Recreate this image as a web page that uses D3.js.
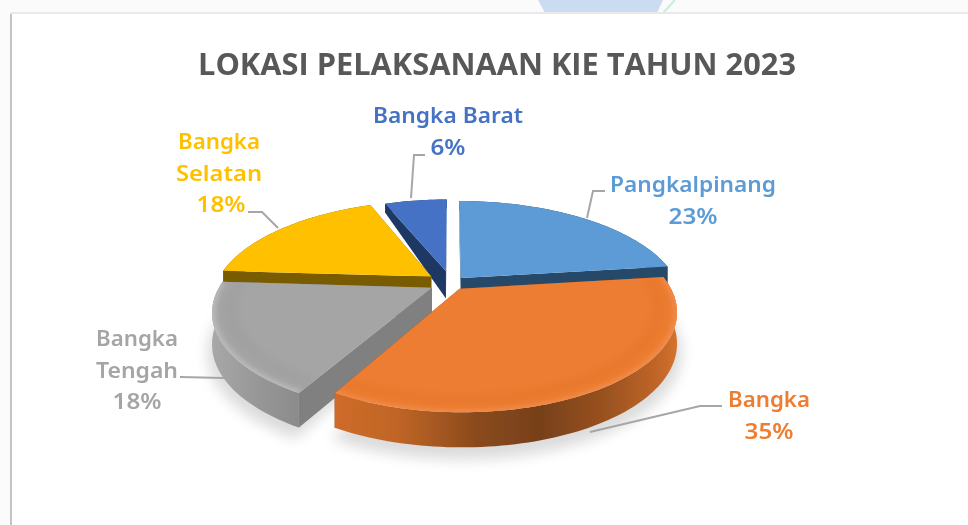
<!DOCTYPE html>
<html><head><meta charset="utf-8">
<script src="https://cdn.jsdelivr.net/npm/d3@7"></script>
<style>html,body{margin:0;padding:0;background:#fff;overflow:hidden}svg{display:block}</style>
</head><body><svg id="c" width="968" height="525"></svg>
<script>
const titleText = "LOKASI PELAKSANAAN KIE TAHUN 2023";
const categories = ["Pangkalpinang","Bangka","Bangka Tengah","Bangka Selatan","Bangka Barat"];
const values = [23,35,18,18,6];
const topColors = ["#5b9bd5","#ed7d31","#a5a5a5","#ffc000","#4472c4"];
const sideColors = ["#264a6b","#8a4a1c","#808080","#7a5c00","#1f3864"];

const svg = d3.select("#c");
const defs = svg.append("defs");
const W = 968, H = 525;

const blur = defs.append("filter").attr("id","soft").attr("x","-5%").attr("y","-5%").attr("width","110%").attr("height","110%");
blur.append("feGaussianBlur").attr("stdDeviation",0.6);
const blur3 = defs.append("filter").attr("id","b3").attr("x","-20%").attr("y","-20%").attr("width","140%").attr("height","140%");
blur3.append("feGaussianBlur").attr("stdDeviation",2.5);
const blurS = defs.append("filter").attr("id","bs").attr("x","-20%").attr("y","-20%").attr("width","140%").attr("height","140%");
blurS.append("feGaussianBlur").attr("stdDeviation",7);

const root = svg.append("g").attr("filter","url(#soft)");
root.append("rect").attr("width",W).attr("height",H).attr("fill","#fbfbfb");
root.append("polygon").attr("points","538,0 663,0 657,13 545,13").attr("fill","#ccdcf0");
root.append("line").attr("x1",675).attr("y1",0).attr("x2",663).attr("y2",13).attr("stroke","#c5f0da").attr("stroke-width",2);
root.append("rect").attr("x",10).attr("y",12).attr("width",W-10).attr("height",H-12).attr("fill","#e9e9e9");
root.append("rect").attr("x",10).attr("y",14).attr("width",2).attr("height",H-14).attr("fill","#c4c4c4");
root.append("rect").attr("x",12).attr("y",14).attr("width",W-12).attr("height",H-14).attr("fill","#ffffff");

root.append("text").attr("x",497).attr("y",75).attr("text-anchor","middle")
  .attr("font-family","'Open Sans',sans-serif").attr("font-weight",700).attr("font-size",31)
  .attr("fill","#595959").attr("textLength",598).attr("lengthAdjust","spacingAndGlyphs").text(titleText);

const cx = 451, cy = 283, R = 215, Ry = 96, k = 0.23;
const xs = d3.scaleLinear().domain([-1,1]).range([cx-R,cx+R]);
const ys = d3.scaleLinear().domain([-1,1]).range([cy-Ry,cy+Ry]);
const depth = v => v < 0 ? 30 + 21*Math.max(v,-1) : 30 + 5*v;
function project(u,v,z){
  const w = 1/(1-k*v);
  return [xs(u*w), ys(v*w) + (z||0)*depth(v)];
}
const pie = d3.pie().sort(null).value(d=>d);
const arcs = pie(values);
const explode = [0.07,0.07,0.10,0.115,0.13];
const radius = [1.01,0.97,0.98,1,0.96];

function geom(i){
  const a = arcs[i], mid=(a.startAngle+a.endAngle)/2, e=explode[i], r=radius[i];
  const ou=Math.sin(mid)*e, ov=-Math.cos(mid)*e;
  const n=Math.max(8,Math.round((a.endAngle-a.startAngle)*40));
  const angles=d3.range(n+1).map(j=>a.startAngle+(a.endAngle-a.startAngle)*j/n);
  const rim=(rr,z)=>angles.map(t=>project(ou+Math.sin(t)*r*rr,ov-Math.cos(t)*r*rr,z));
  const apex=z=>project(ou,ov,z);
  return {rim,apex,a,n};
}
const line = d3.line().curve(d3.curveLinear);
const closed = pts => line(pts)+"Z";

function sideGrad(id,x1,x2,stops){
  const g=defs.append("linearGradient").attr("id",id).attr("gradientUnits","userSpaceOnUse")
    .attr("x1",x1).attr("y1",0).attr("x2",x2).attr("y2",0);
  stops.forEach(s=>g.append("stop").attr("offset",s[0]).attr("stop-color",s[1]));
}
sideGrad("gOrange",329,680,[[0,"#d06c2a"],[0.2,"#bf6526"],[0.42,"#8a4a1c"],[0.6,"#774019"],[0.8,"#9c5320"],[0.95,"#c5682a"],[1,"#d8762f"]]);
sideGrad("gGray",211,335,[[0,"#a8a8a8"],[0.4,"#969696"],[0.75,"#8a8a8a"],[1,"#7a7a7a"]]);

const chart = root.append("g");
const sh=geom(1), sg=geom(2);
chart.append("path").attr("d",closed(sh.rim(1.02,1.25).concat([sh.apex(1)]))).attr("fill","#000").attr("opacity",.14).attr("filter","url(#bs)");
chart.append("path").attr("d",closed(sg.rim(1.02,1.25).concat([sg.apex(1)]))).attr("fill","#000").attr("opacity",.14).attr("filter","url(#bs)");

const paintOrder=[0,4,3,2,1];
const sideFill={1:"url(#gOrange)",2:"url(#gGray)"};
paintOrder.forEach(i=>{
  const G=geom(i), g=chart.append("g").attr("class","slice");
  const top=G.rim(1,0), bot=G.rim(1,1);
  const ap0=G.apex(0), ap1=G.apex(1);
  const cutFace=(p0,p1)=>closed([ap0,p0,p1,ap1]);
  g.append("path").attr("d",cutFace(top[0],bot[0])).attr("fill",sideColors[i]);
  g.append("path").attr("d",cutFace(top[G.n],bot[G.n])).attr("fill",sideColors[i]);
  g.append("path").attr("d",closed(top.concat(bot.slice().reverse()))).attr("fill",sideFill[i]||sideColors[i]);
  const topPath=closed([ap0].concat(top));
  g.append("path").attr("d",topPath).attr("fill",topColors[i]);
  if(i===1||i===2){
    const id="clip"+i;
    defs.append("clipPath").attr("id",id).append("path").attr("d",topPath);
    const bev=g.append("g").attr("clip-path",`url(#${id})`);
    const ring=(a,b)=>closed(G.rim(a,0).concat(G.rim(b,0).reverse()));
    bev.append("path").attr("d",ring(.89,.95)).attr("fill",i===1?"#dd722a":"#9a9a9a").attr("opacity",.3).attr("filter","url(#b3)");
    bev.append("path").attr("d",ring(.985,1.03)).attr("fill",i===1?"#f39a60":"#cccccc").attr("opacity",.55).attr("filter","url(#b3)");
  }
});

const leaders=[
  [[587,218],[593,191],[605,191]],
  [[590,432],[700,406],[722,406]],
  [[224,378],[180,377]],
  [[278,228],[262,212],[248,212]],
  [[411,198],[414,155],[425,155]]
];
chart.selectAll("path.leader").data(leaders).join("path").attr("class","leader")
  .attr("d",d=>d3.line()(d)).attr("fill","none").attr("stroke","#a6a6a6").attr("stroke-width",2);

const labelLines=[
  [{t:"Pangkalpinang",x:693,y:192,w:166},{t:values[0]+"%",x:693,y:224,w:49}],
  [{t:"Bangka",x:769,y:407,w:82},{t:values[1]+"%",x:769,y:439,w:49}],
  [{t:"Bangka",x:137,y:346,w:82},{t:"Tengah",x:137,y:378,w:82},{t:values[2]+"%",x:137,y:409,w:49}],
  [{t:"Bangka",x:219,y:149,w:82},{t:"Selatan",x:219,y:181,w:86},{t:values[3]+"%",x:221,y:212,w:49}],
  [{t:"Bangka Barat",x:448,y:123,w:150},{t:values[4]+"%",x:448,y:155,w:35}]
];
labelLines.forEach((ls,i)=>ls.forEach(l=>{
  chart.append("text").attr("x",l.x).attr("y",l.y).attr("text-anchor","middle")
   .attr("font-family","'Noto Sans',sans-serif").attr("font-weight",600).attr("font-size",22)
   .attr("fill",topColors[i]).attr("textLength",l.w).attr("lengthAdjust","spacingAndGlyphs").text(l.t);
}));
</script></body></html>
